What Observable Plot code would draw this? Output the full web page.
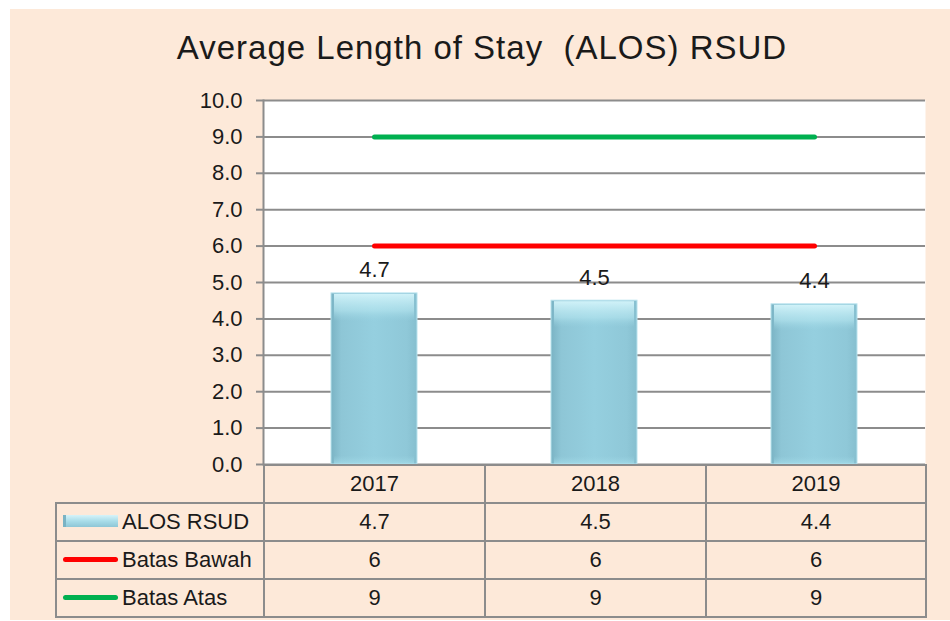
<!DOCTYPE html>
<html>
<head>
<meta charset="utf-8">
<script src="https://cdn.jsdelivr.net/npm/d3@7"></script>
<script src="https://cdn.jsdelivr.net/npm/@observablehq/plot@0.6"></script>
<style>
  html, body { margin: 0; padding: 0; background: #ffffff; }
  #wrap { position: relative; width: 950px; height: 621px; overflow: hidden; font-family: "Liberation Sans", Arial, sans-serif; color: #1a1a1a; }
  #panel { position: absolute; left: 10px; top: 9px; width: 940px; height: 611px; background: #fde9d9; }
  #title { position: absolute; left: 0; width: 964px; top: 28px; text-align: center; font-size: 33px; letter-spacing: 1px; line-height: 40px; color: #1a1a1a; }
  #chart { position: absolute; left: 0; top: 0; }
  #tbl { position: absolute; left: 55px; top: 464px; border-collapse: collapse; font-size: 22px; table-layout: fixed; }
  #tbl td { border: 2px solid #8c8c8c; text-align: center; padding: 0; height: 36px; color: #1a1a1a; }
  #tbl td.lab { text-align: left; padding-left: 6px; white-space: nowrap; }
  #tbl td.blank { border-top: none; border-left: none; }
  .sw { display: inline-block; width: 55px; vertical-align: middle; margin-right: 4px; position: relative; top: -2px; }
</style>
</head>
<body>
<div id="wrap">
  <div id="panel"></div>
  <div id="title">Average Length of Stay&nbsp;&nbsp;(ALOS) RSUD</div>
  <div id="chart"></div>
  <table id="tbl"></table>
</div>
<script>
const years = ["2017", "2018", "2019"];
const alos = [4.7, 4.5, 4.4];
const batasBawah = [6, 6, 6];
const batasAtas = [9, 9, 9];
const yTicks = [0, 1, 2, 3, 4, 5, 6, 7, 8, 9, 10];
const seriesNames = ["ALOS RSUD", "Batas Bawah", "Batas Atas"];
const lineColors = { "Batas Bawah": "#ff0000", "Batas Atas": "#00b050" };

const bars = years.map((y, i) => ({ year: y, value: alos[i] }));
const lines = [];
years.forEach((y, i) => lines.push({ year: y, value: batasBawah[i], s: "Batas Bawah" }));
years.forEach((y, i) => lines.push({ year: y, value: batasAtas[i], s: "Batas Atas" }));

const plot = Plot.plot({
  width: 950,
  height: 470,
  marginTop: 100,
  marginBottom: 6,
  marginLeft: 263,
  marginRight: 25,
  style: { background: "transparent", fontFamily: "Liberation Sans, Arial, sans-serif", overflow: "visible" },
  x: { domain: years, padding: 0, axis: null },
  y: { domain: [0, 10], ticks: yTicks, tickFormat: d => d.toFixed(1), label: null },
  marks: [
    Plot.frame({ fill: "white", stroke: null }),
    Plot.ruleY(yTicks, { stroke: "#8c8c8c", strokeWidth: 2 }),
    Plot.axisY({ ticks: yTicks, tickFormat: d => d.toFixed(1), tickSize: 7, tickPadding: 14, fontSize: 22, stroke: "#8c8c8c", strokeWidth: 2, fill: "#1a1a1a", label: null }),
    Plot.barY(bars, { x: "year", y: "value", fill: "url(#barGrad)", stroke: "#b9e3ee", strokeWidth: 1, insetLeft: 67, insetRight: 67 }),
    Plot.barY(bars, { x: "year", y: "value", fill: "url(#topGrad)", insetLeft: 70, insetRight: 70, insetTop: 1 }),
    Plot.text(bars, { x: "year", y: "value", text: d => d.value.toFixed(1), dy: -23, fontSize: 22, fill: "#1a1a1a" }),
    Plot.lineY(lines, { x: "year", y: "value", z: "s", stroke: d => lineColors[d.s], strokeWidth: 5, strokeLinecap: "round" }),
    Plot.frame({ anchor: "left", stroke: "#8c8c8c", strokeWidth: 2 })
  ]
});

// gradient defs for the bevelled bars
const ns = "http://www.w3.org/2000/svg";
const defs = document.createElementNS(ns, "defs");
defs.innerHTML = `
  <linearGradient id="barGrad" x1="0" x2="1" y1="0" y2="0">
    <stop offset="0" stop-color="#7ab3c4"/>
    <stop offset="0.12" stop-color="#8ec6d6"/>
    <stop offset="0.5" stop-color="#95cfdf"/>
    <stop offset="0.88" stop-color="#8fc8d8"/>
    <stop offset="1" stop-color="#86bfcf"/>
  </linearGradient>
  <linearGradient id="topGrad" x1="0" x2="0" y1="0" y2="1">
    <stop offset="0" stop-color="#d4f4fa" stop-opacity="0.95"/>
    <stop offset="0.1" stop-color="#b6e6f0" stop-opacity="0.6"/>
    <stop offset="0.16" stop-color="#9dd6e4" stop-opacity="0"/>
    <stop offset="0.95" stop-color="#9dd6e4" stop-opacity="0"/>
    <stop offset="1" stop-color="#a8dfec" stop-opacity="0.7"/>
  </linearGradient>`;
plot.insertBefore(defs, plot.firstChild);
document.getElementById("chart").appendChild(plot);

// data table under the chart
const tbl = document.getElementById("tbl");
const colg = document.createElement("colgroup");
[208, 221, 221, 220].forEach(w => { const c = document.createElement("col"); c.style.width = w + "px"; colg.appendChild(c); });
tbl.appendChild(colg);
const head = document.createElement("tr");
head.innerHTML = `<td class="blank"></td>` + years.map(y => `<td>${y}</td>`).join("");
tbl.appendChild(head);
const rowsData = [alos.map(v => v.toFixed(1)), batasBawah.map(String), batasAtas.map(String)];
seriesNames.forEach((name, i) => {
  const tr = document.createElement("tr");
  let sw;
  if (i === 0) sw = `<span class="sw" style="height:12px;background:linear-gradient(#d6f3f9,#a9dde9 50%,#8ec6d6);border-left:3px solid #7ab3c4;box-sizing:border-box"></span>`;
  else sw = `<span class="sw" style="height:5px;border-radius:3px;background:${lineColors[name]}"></span>`;
  tr.innerHTML = `<td class="lab">${sw}${name}</td>` + rowsData[i].map(v => `<td>${v}</td>`).join("");
  tbl.appendChild(tr);
});
</script>
</body>
</html>
